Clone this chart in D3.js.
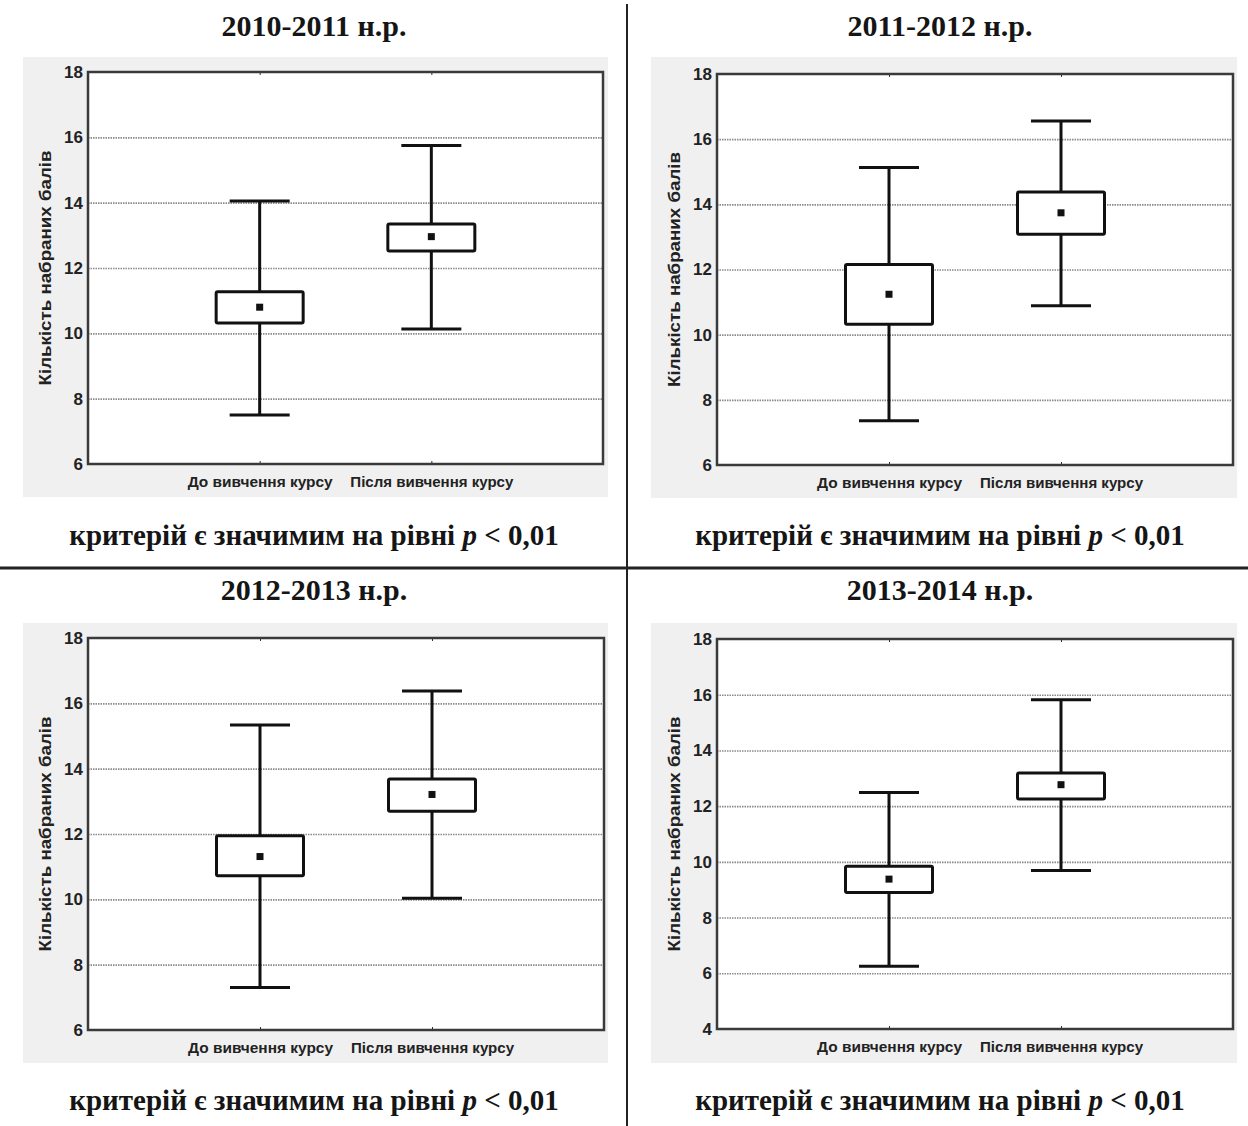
<!DOCTYPE html>
<html>
<head>
<meta charset="utf-8">
<script src="https://cdn.jsdelivr.net/npm/d3@7"></script>
<style>
  html, body { margin: 0; padding: 0; background: #fff; }
  svg { display: block; }
</style>
</head>
<body>
<svg id="chart" width="1248" height="1126"></svg>
<script>
// ---------------- DATA ----------------
const panelTitles = ["2010-2011 н.р.", "2011-2012 н.р.", "2012-2013 н.р.", "2013-2014 н.р."];
const categories = ["До вивчення курсу", "Після вивчення курсу"];
const yAxisTitle = "Кількість набраних балів";
const footerMain = "критерій є значимим на рівні ";
const footerP = "p";
const footerTail = " < 0,01";

// per panel: [before, after]
const whiskerHigh = [[14.05, 15.75], [15.13, 16.56], [15.34, 16.38], [12.49, 15.82]];
const boxHigh     = [[11.27, 13.35], [12.15, 14.38], [11.95, 13.68], [9.84, 13.19]];
const means       = [[10.80, 12.96], [11.24, 13.74], [11.31, 13.21], [9.38, 12.77]];
const boxLow      = [[10.32, 12.52], [10.32, 13.08], [10.72, 12.70], [8.90, 12.26]];
const whiskerLow  = [[7.50, 10.13], [7.36, 10.89], [7.30, 10.03], [6.25, 9.69]];

const yDomains = [[6, 18], [6, 18], [6, 18], [4, 18]];
const yTicks = [
  [6, 8, 10, 12, 14, 16, 18],
  [6, 8, 10, 12, 14, 16, 18],
  [6, 8, 10, 12, 14, 16, 18],
  [4, 6, 8, 10, 12, 14, 16, 18]
];

// ---------------- LAYOUT ----------------
const svg = d3.select("#chart");
const layout = [
  { bg: [23, 57, 608, 497],  plot: [88, 72, 603, 464],   titleX: 314, titleY: 36,  footY: 545 },
  { bg: [651, 57, 1237, 498], plot: [717, 74, 1233, 465], titleX: 940, titleY: 36,  footY: 545 },
  { bg: [23, 623, 608, 1063], plot: [88, 638, 604, 1030], titleX: 314, titleY: 600, footY: 1110 },
  { bg: [651, 623, 1237, 1063], plot: [717, 639, 1233, 1029], titleX: 940, titleY: 600, footY: 1110 }
];
const catLabelLen = [145, 163];

const serif = "'Liberation Serif', 'Times New Roman', serif";
const sans = "'Liberation Sans', Arial, sans-serif";

// dividers
svg.append("line").attr("x1", 627).attr("x2", 627).attr("y1", 4).attr("y2", 1126)
  .attr("stroke", "#222").attr("stroke-width", 2);
svg.append("line").attr("x1", 0).attr("x2", 1248).attr("y1", 568).attr("y2", 568)
  .attr("stroke", "#222").attr("stroke-width", 3);

layout.forEach((L, i) => {
  const g = svg.append("g");
  // title
  g.append("text").attr("x", L.titleX).attr("y", L.titleY)
    .attr("text-anchor", "middle").attr("font-family", serif)
    .attr("font-size", 30).attr("font-weight", "bold").attr("fill", "#151515")
    .text(panelTitles[i]);
  // footer
  const ft = g.append("text").attr("x", L.titleX).attr("y", L.footY)
    .attr("text-anchor", "middle").attr("font-family", serif)
    .attr("font-size", 29).attr("font-weight", "bold").attr("fill", "#151515");
  ft.append("tspan").text(footerMain);
  ft.append("tspan").attr("font-style", "italic").text(footerP);
  ft.append("tspan").text(footerTail);

  // background
  g.append("rect").attr("x", L.bg[0]).attr("y", L.bg[1])
    .attr("width", L.bg[2] - L.bg[0]).attr("height", L.bg[3] - L.bg[1])
    .attr("fill", "#f0f0f0");

  const [x0, y0, x1, y1] = L.plot;
  g.append("rect").attr("x", x0).attr("y", y0).attr("width", x1 - x0).attr("height", y1 - y0)
    .attr("fill", "#fff");

  const x = d3.scalePoint().domain(categories).range([x0, x1]).padding(1);
  const y = d3.scaleLinear().domain(yDomains[i]).range([y1, y0]);

  // grid
  const grid = g.append("g").attr("transform", `translate(${x0},0)`)
    .call(d3.axisLeft(y).tickValues(yTicks[i].slice(1, -1)).tickSize(-(x1 - x0)).tickFormat(""));
  grid.select(".domain").remove();
  grid.selectAll(".tick line").attr("stroke", "#8a8a8a").attr("stroke-width", 1.6)
    .attr("stroke-dasharray", "1.5,1");

  // y axis labels
  const ya = g.append("g").attr("transform", `translate(${x0},0)`)
    .call(d3.axisLeft(y).tickValues(yTicks[i]).tickSize(0).tickPadding(5).tickFormat(d3.format("d")));
  ya.select(".domain").remove();
  ya.selectAll("text").attr("font-family", sans).attr("font-size", 17)
    .attr("font-weight", "bold").attr("fill", "#222");

  // x axis labels and small ticks
  const xa = g.append("g").attr("transform", `translate(0,${y1})`)
    .call(d3.axisBottom(x).tickSize(3).tickPadding(10));
  xa.select(".domain").remove();
  xa.selectAll(".tick line").attr("stroke", "#333").attr("y1", -3).attr("y2", 0);
  xa.selectAll("text").attr("font-family", sans).attr("font-size", 14)
    .attr("font-weight", "bold").attr("fill", "#222")
    .attr("textLength", (d, k) => catLabelLen[k]).attr("lengthAdjust", "spacingAndGlyphs");
  const xt = g.append("g").attr("transform", `translate(0,${y0})`)
    .call(d3.axisTop(x).tickSize(-3).tickFormat(""));
  xt.select(".domain").remove();
  xt.selectAll(".tick line").attr("stroke", "#333");

  // frame
  g.append("rect").attr("x", x0).attr("y", y0).attr("width", x1 - x0).attr("height", y1 - y0)
    .attr("fill", "none").attr("stroke", "#3a3a3a").attr("stroke-width", 2.5);

  // y title
  g.append("text")
    .attr("transform", `translate(${x0 - 37},${(y0 + y1) / 2}) rotate(-90)`)
    .attr("text-anchor", "middle").attr("font-family", sans).attr("font-size", 17)
    .attr("font-weight", "bold").attr("fill", "#222")
    .attr("textLength", 235).attr("lengthAdjust", "spacingAndGlyphs")
    .text(yAxisTitle);

  // boxes
  const boxW = 87, capW = 60;
  categories.forEach((c, k) => {
    const cx = x(c);
    const bw = g.append("g").attr("stroke", "#111").attr("stroke-width", 3).attr("fill", "none");
    bw.append("line").attr("x1", cx).attr("x2", cx).attr("y1", y(whiskerHigh[i][k])).attr("y2", y(boxHigh[i][k]));
    bw.append("line").attr("x1", cx).attr("x2", cx).attr("y1", y(boxLow[i][k])).attr("y2", y(whiskerLow[i][k]));
    bw.append("line").attr("x1", cx - capW / 2).attr("x2", cx + capW / 2)
      .attr("y1", y(whiskerHigh[i][k])).attr("y2", y(whiskerHigh[i][k]));
    bw.append("line").attr("x1", cx - capW / 2).attr("x2", cx + capW / 2)
      .attr("y1", y(whiskerLow[i][k])).attr("y2", y(whiskerLow[i][k]));
    bw.append("rect").attr("x", cx - boxW / 2).attr("y", y(boxHigh[i][k]))
      .attr("width", boxW).attr("height", y(boxLow[i][k]) - y(boxHigh[i][k]))
      .attr("rx", 1.5).attr("fill", "#fff");
    g.append("rect").attr("x", cx - 3.5).attr("y", y(means[i][k]) - 3.5)
      .attr("width", 7).attr("height", 7).attr("fill", "#111");
  });
});
</script>
</body>
</html>
